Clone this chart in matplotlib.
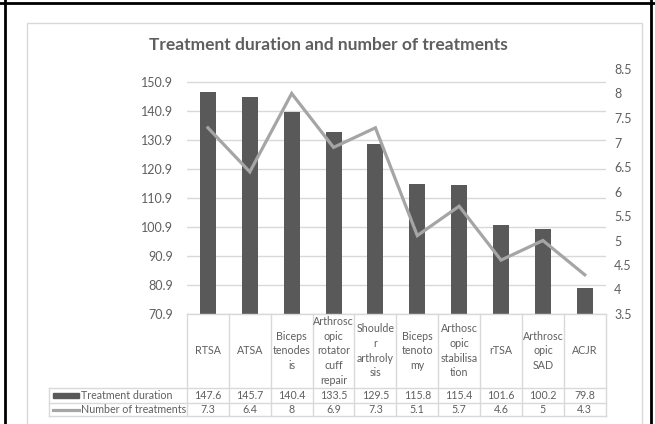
import matplotlib.pyplot as plt
from matplotlib.transforms import blended_transform_factory
from matplotlib.patches import Rectangle
from matplotlib.lines import Line2D

procedures = ["RTSA", "ATSA", "Biceps\ntenodes\nis", "Arthrosc\nopic\nrotator\ncuff\nrepair",
              "Shoulde\nr\narthroly\nsis", "Biceps\ntenoto\nmy", "Arthosc\nopic\nstabilisa\ntion",
              "rTSA", "Arthrosc\nopic\nSAD", "ACJR"]
duration = [147.6, 145.7, 140.4, 133.5, 129.5, 115.8, 115.4, 101.6, 100.2, 79.8]
n_treat = [7.3, 6.4, 8, 6.9, 7.3, 5.1, 5.7, 4.6, 5, 4.3]
left_ticks = [70.9, 80.9, 90.9, 100.9, 110.9, 120.9, 130.9, 140.9, 150.9]
right_ticks = [3.5, 4, 4.5, 5, 5.5, 6, 6.5, 7, 7.5, 8, 8.5]
series = ["Treatment duration", "Number of treatments"]

TXT = "#5f5f5f"
BAR = "#595959"
LINE = "#a5a5a5"
GRID = "#d9d9d9"
FS = 7.7

plt.rcParams['font.family'] = ['Lato', 'DejaVu Sans']

W, H = 655, 424
fig = plt.figure(figsize=(W / 100, H / 100), dpi=100)

# outer black frame and light chart border (in pixels)
def px(x, y):
    return x / W, 1 - y / H

fig.add_artist(Line2D([px(5, 0)[0], px(5, 0)[0]], [1, 0], color="black", lw=2, transform=fig.transFigure))
fig.add_artist(Line2D([0, 1], [px(0, 3)[1], px(0, 3)[1]], color="black", lw=2, transform=fig.transFigure))
fig.add_artist(Line2D([px(651, 0)[0], px(651, 0)[0]], [1, 0], color="black", lw=2, transform=fig.transFigure))
fig.add_artist(Rectangle(px(27, 430), (641.5 - 27) / W, (430 - 23) / H, fill=False,
                         edgecolor="#d9d9d9", lw=1, transform=fig.transFigure))

ax = fig.add_axes([187 / W, 110 / H, 418.7 / W, 245 / H])
x = list(range(len(procedures)))

ax.bar(x, duration, width=0.38, color=BAR, zorder=2)
ax.set_ylim(70.9, 155.4)
ax.set_xlim(-0.5, len(procedures) - 0.5)
ax.set_yticks(left_ticks)
ax.set_yticklabels([f"{v:.1f}" for v in left_ticks])
ax.set_xticks([])
ax.yaxis.grid(True, color=GRID, lw=1)
ax.set_axisbelow(True)
for s in ax.spines.values():
    s.set_visible(False)
ax.tick_params(axis="y", length=0, pad=10, labelsize=9, labelcolor=TXT)

ax2 = ax.twinx()
ax2.plot(x, n_treat, color=LINE, lw=2.3, solid_joinstyle="miter", zorder=3)
ax2.set_ylim(3.5, 8.5)
ax2.set_yticks(right_ticks)
ax2.set_yticklabels([f"{v:g}" for v in right_ticks])
for s in ax2.spines.values():
    s.set_visible(False)
ax2.tick_params(axis="y", length=0, pad=6, labelsize=9, labelcolor=TXT)

fig.text(px(328, 0)[0], px(0, 45)[1], "Treatment duration and number of treatments",
         ha="center", va="center", fontsize=12.5, fontweight="bold", color=TXT)

# data table under the plot: x in data units, y in axes fraction
tr = blended_transform_factory(ax.transData, ax.transAxes)
ph = 245.0
def yax(ypx):
    return (314 - ypx) / ph

y_top, y_r1, y_r2, y_bot = yax(314), yax(387.7), yax(403), yax(416)
x_head = -0.5 - (187 - 49) / 41.87
n = len(procedures)

lkw = dict(color=GRID, lw=1, transform=tr, clip_on=False)
ax.add_line(Line2D([-0.5, n - 0.5], [y_top, y_top], **lkw))
for yy in (y_r1, y_r2, y_bot):
    ax.add_line(Line2D([x_head, n - 0.5], [yy, yy], **lkw))
for i in range(n + 1):
    ax.add_line(Line2D([i - 0.5, i - 0.5], [y_top, y_bot], **lkw))
ax.add_line(Line2D([x_head, x_head], [y_r1, y_bot], **lkw))

tkw = dict(ha="center", va="center", fontsize=FS, color=TXT, transform=tr, clip_on=False)
for i, name in enumerate(procedures):
    ax.text(i, (y_top + y_r1) / 2, name, linespacing=1.4, **tkw)
    ax.text(i, (y_r1 + y_r2) / 2, f"{duration[i]:g}", **tkw)
    ax.text(i, (y_r2 + y_bot) / 2, f"{n_treat[i]:g}", **tkw)

# legend keys in the table header column
k0 = x_head + 4 / 41.87
k1 = x_head + 30 / 41.87
ym1 = (y_r1 + y_r2) / 2
ym2 = (y_r2 + y_bot) / 2
ax.add_patch(Rectangle((k0, ym1 - 2.2 / ph), k1 - k0, 4.4 / ph, color=BAR, transform=tr, clip_on=False))
ax.add_line(Line2D([k0, k1], [ym2, ym2], color=LINE, lw=2.3, transform=tr, clip_on=False))
ax.text(k1 + 2 / 41.87, ym1, series[0], ha="left", va="center", fontsize=FS, color=TXT,
        transform=tr, clip_on=False)
ax.text(k1 + 2 / 41.87, ym2, series[1], ha="left", va="center", fontsize=FS, color=TXT,
        transform=tr, clip_on=False)

fig.savefig("out.png", dpi=100)
